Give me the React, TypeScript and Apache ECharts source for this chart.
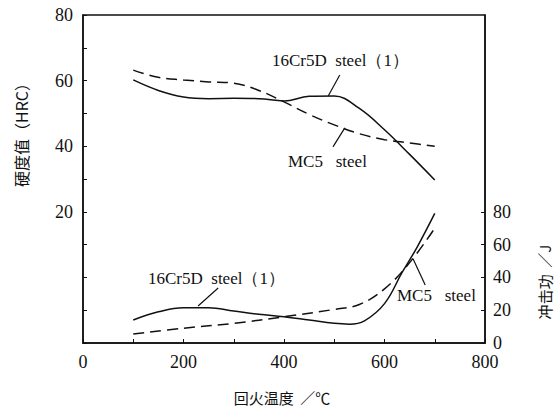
import React, { useEffect, useRef } from "react";
import * as echarts from "echarts";

// Hardness (left axis, HRC)
const hardTemps = [100, 150, 200, 250, 300, 350, 400, 450, 500, 550, 600, 650, 700];
const hard16Cr5D = [60.2, 57, 55, 54.5, 54.6, 54.5, 53.8, 55.2, 55.3, 51.5, 45, 37.5, 29.7];
const hardMC5Temps = [100, 150, 200, 250, 300, 350, 400, 450, 500, 550, 600, 650, 700];
const hardMC5 = [63.2, 61, 60.2, 59.6, 59.2, 57, 53.5, 49.7, 46.5, 43.8, 42, 41, 40];

// Impact energy (right axis, J)
const imp16Temps = [100, 150, 200, 250, 300, 350, 400, 450, 500, 530, 560, 600, 635, 665, 700];
const imp16Cr5D = [14, 19, 21.5, 21.5, 19.5, 17.5, 16, 14, 12, 11.5, 13.5, 24, 43, 58.5, 79];
const impMC5Temps = [100, 200, 300, 400, 500, 550, 600, 650, 700];
const impMC5 = [5.5, 9, 12, 16, 20.5, 23.5, 33, 49, 70];

const xTickLabels = [0, 200, 400, 600, 800];
const leftTickLabels = [20, 40, 60, 80];
const rightTickLabels = [0, 20, 40, 60, 80];

const zip = (xs: number[], ys: number[]) => xs.map((x, i) => [x, ys[i]]);

const SERIF = "Liberation Serif";
const CJK = "Noto Sans CJK SC";

export default function App() {
  const ref = useRef<HTMLDivElement>(null);
  useEffect(() => {
    if (!ref.current) return;
    const chart = echarts.init(ref.current, null, { renderer: "svg" });
    const black = "#111";
    const pointer = (a: number[], b: number[]) => ({
      silent: true,
      symbol: ["none", "none"],
      label: { show: false },
      lineStyle: { color: black, width: 1.2, type: "solid" as const },
      data: [[{ coord: a }, { coord: b }]],
    });
    const rich = { s: { fontFamily: SERIF, fontSize: 18, color: black } };
    const tickLabel = {
      color: black,
      fontFamily: SERIF,
      fontSize: 18,
      rich,
    };
    chart.setOption({
      animation: false,
      backgroundColor: "#fff",
      textStyle: { fontFamily: SERIF },
      grid: {
        left: 83,
        top: 15,
        right: 69,
        bottom: 65,
        show: true,
        borderColor: black,
        borderWidth: 1.5,
      },
      xAxis: {
        type: "value",
        min: 0,
        max: 800,
        interval: 100,
        axisLine: { show: true, onZero: false, lineStyle: { color: black, width: 1.5 } },
        axisTick: { show: true, inside: true, length: 4, lineStyle: { color: black } },
        splitLine: { show: false },
        axisLabel: {
          ...tickLabel,
          margin: 10,
          formatter: (v: number) => (xTickLabels.includes(v) ? `{s|${v}}` : ""),
        },
      },
      yAxis: [
        {
          type: "value",
          min: -20,
          max: 80,
          interval: 10,
          axisLine: { show: true, onZero: false, lineStyle: { color: black, width: 1.5 } },
          axisTick: { show: true, inside: true, length: 4, lineStyle: { color: black } },
          splitLine: { show: false },
          axisLabel: {
            ...tickLabel,
            margin: 10,
            formatter: (v: number) => (leftTickLabels.includes(v) ? `{s|${v}}` : ""),
          },
        },
        {
          type: "value",
          position: "right",
          min: 0,
          max: 200,
          interval: 20,
          axisLine: { show: true, onZero: false, lineStyle: { color: black, width: 1.5 } },
          axisTick: {
            show: true,
            inside: true,
            length: 4,
            lineStyle: { color: black },
            customValues: rightTickLabels,
          },
          splitLine: { show: false },
          axisLabel: {
            ...tickLabel,
            margin: 8,
            customValues: rightTickLabels,
            formatter: (v: number) => `{s|${v}}`,
          },
        },
      ],
      series: [
        {
          name: "16Cr5D hardness",
          type: "line",
          yAxisIndex: 0,
          data: zip(hardTemps, hard16Cr5D),
          smooth: 0.4,
          showSymbol: false,
          lineStyle: { color: black, width: 1.5 },
          markLine: pointer([511, 61.7], [488, 55.3]),
        },
        {
          name: "MC5 hardness",
          type: "line",
          yAxisIndex: 0,
          data: zip(hardMC5Temps, hardMC5),
          smooth: 0.4,
          showSymbol: false,
          lineStyle: { color: black, width: 1.5, type: [11, 6] },
          markLine: pointer([497.5, 39.8], [521, 45.6]),
        },
        {
          name: "16Cr5D impact",
          type: "line",
          yAxisIndex: 1,
          data: zip(imp16Temps, imp16Cr5D),
          smooth: 0.4,
          showSymbol: false,
          lineStyle: { color: black, width: 1.5 },
          markLine: pointer([269, 33.5], [229, 22.6]),
        },
        {
          name: "MC5 impact",
          type: "line",
          yAxisIndex: 1,
          data: zip(impMC5Temps, impMC5),
          smooth: 0.4,
          showSymbol: false,
          lineStyle: { color: black, width: 1.5, type: [11, 6] },
          markLine: pointer([657, 51.2], [681, 35.4]),
        },
      ],
      graphic: [
        {
          type: "text",
          x: 272,
          y: 60,
          style: {
            text: "16Cr5D  steel（1）",
            font: `17px ${SERIF}`,
            fill: black,
            textAlign: "left",
            textVerticalAlign: "middle",
          },
        },
        {
          type: "text",
          x: 288,
          y: 161,
          style: {
            text: "MC5   steel",
            font: `17px ${SERIF}`,
            fill: black,
            textAlign: "left",
            textVerticalAlign: "middle",
          },
        },
        {
          type: "text",
          x: 148,
          y: 278,
          style: {
            text: "16Cr5D  steel（1）",
            font: `17px ${SERIF}`,
            fill: black,
            textAlign: "left",
            textVerticalAlign: "middle",
          },
        },
        {
          type: "text",
          x: 397,
          y: 295,
          style: {
            text: "MC5   steel",
            font: `17px ${SERIF}`,
            fill: black,
            textAlign: "left",
            textVerticalAlign: "middle",
          },
        },
        {
          type: "text",
          x: 21,
          y: 131,
          rotation: Math.PI / 2,
          style: {
            text: "硬度值（HRC）",
            font: `16px ${CJK}`,
            fill: black,
            textAlign: "center",
            textVerticalAlign: "middle",
          },
        },
        {
          type: "text",
          x: 544,
          y: 282,
          rotation: Math.PI / 2,
          style: {
            text: "冲击功  ／J",
            font: `15px ${CJK}`,
            fill: black,
            textAlign: "center",
            textVerticalAlign: "middle",
          },
        },
        {
          type: "text",
          x: 282,
          y: 397,
          style: {
            text: "回火温度  ／℃",
            font: `15px ${CJK}`,
            fill: black,
            textAlign: "center",
            textVerticalAlign: "middle",
          },
        },
      ],
    });
    return () => chart.dispose();
  }, []);
  return <div ref={ref} style={{ width: 554, height: 408, position: "absolute", left: 0, top: 0 }} />;
}
